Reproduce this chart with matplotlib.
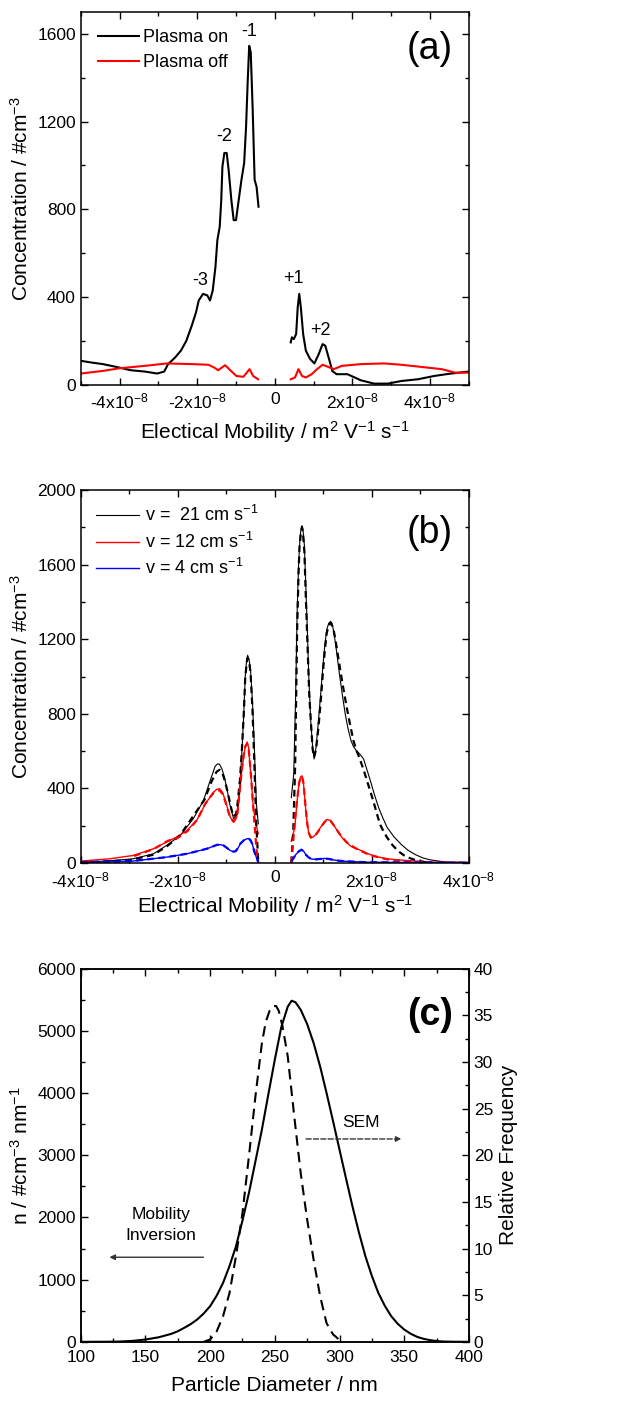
import numpy as np
import matplotlib
matplotlib.use('Agg')
import matplotlib.pyplot as plt
from matplotlib.ticker import MultipleLocator, FixedLocator

plt.rcParams['font.family'] = ['Liberation Sans', 'DejaVu Sans']
plt.rcParams['mathtext.fontset'] = 'custom'
plt.rcParams['mathtext.rm'] = 'Liberation Sans'
plt.rcParams['mathtext.it'] = 'Liberation Sans:italic'
plt.rcParams['mathtext.bf'] = 'Liberation Sans:bold'
plt.rcParams['axes.linewidth'] = 1.1

# ---------------- panel (a): mobility in units of 1e-8 m2/Vs ----------------
a_on_left_x = [-5.0, -4.72, -4.43, -4.0, -3.71, -3.35, -3.03, -2.85, -2.75, -2.57, -2.42,
               -2.28, -2.14, -2.03, -1.96, -1.85, -1.74, -1.67, -1.60, -1.53, -1.48, -1.42,
               -1.38, -1.35, -1.30, -1.24, -1.19, -1.12, -1.06, -1.00, -0.93, -0.86, -0.79,
               -0.74, -0.70, -0.66, -0.62, -0.57, -0.52, -0.47, -0.42]
a_on_left_y = [110, 102, 95, 79, 67, 61, 52, 61, 95, 125, 156,
               201, 270, 331, 385, 415, 408, 385, 430, 537, 660, 720,
               843, 995, 1057, 1057, 980, 843, 751, 751, 843, 934, 1011,
               1179, 1377, 1545, 1515, 1255, 934, 903, 812]
a_on_right_x = [0.41, 0.44, 0.49, 0.55, 0.59, 0.63, 0.67, 0.73, 0.80, 0.91, 1.02, 1.13,
                1.23, 1.30, 1.41, 1.48, 1.59, 1.87, 2.22, 2.56, 2.91, 3.26, 3.69, 4.11,
                4.54, 5.0]
a_on_right_y = [194, 217, 209, 232, 354, 415, 354, 232, 156, 118, 98, 140,
                186, 179, 110, 64, 49, 49, 21, 6, 6, 18, 26, 41,
                52, 61]
a_off_left_x = [-5.0, -4.43, -4.0, -3.35, -2.78, -2.14, -1.71, -1.56, -1.46, -1.28,
                -1.13, -0.99, -0.81, -0.65, -0.56, -0.43]
a_off_left_y = [52, 64, 76, 87, 98, 95, 92, 79, 67, 90, 64, 41, 37, 72, 41, 26]
a_off_right_x = [0.41, 0.52, 0.61, 0.70, 0.80, 0.95, 1.09, 1.23, 1.38, 1.52, 1.73, 2.22,
                 2.82, 3.26, 3.78, 4.30, 4.65, 5.0]
a_off_right_y = [26, 34, 72, 41, 34, 49, 72, 92, 82, 72, 87, 95, 98, 92, 82, 72, 56, 56]
peak_labels = ['-1', '-2', '-3', '+1', '+2']
peak_x = [-0.65, -1.30, -1.92, 0.49, 1.18]
peak_y = [1612, 1133, 476, 484, 250]

# ---------------- panel (b) ----------------
b_k_left_x = [-4.0, -3.47, -2.92, -2.50, -2.23, -1.95, -1.68, -1.47, -1.33, -1.23, -1.18,
              -1.14, -1.09, -1.04, -0.98, -0.93, -0.85, -0.80, -0.77, -0.72, -0.68, -0.64,
              -0.61, -0.58, -0.56, -0.53, -0.50, -0.46, -0.43, -0.38, -0.34]
b_k_left_y = [5, 11, 23, 50, 95, 148, 238, 336, 444, 519, 532,
              530, 505, 462, 390, 318, 238, 250, 283, 420, 587, 800,
              998, 1090, 1114, 1090, 1034, 860, 676, 318, 211]
b_kd_left_x = [-4.0, -3.0, -2.5, -2.2, -1.95, -1.7, -1.45, -1.3, -1.2, -1.14, -1.09,
               -1.04, -0.98, -0.93, -0.86, -0.80, -0.78, -0.72, -0.68, -0.64, -0.61, -0.58,
               -0.56, -0.53, -0.50, -0.46, -0.43, -0.38, -0.34]
b_kd_left_y = [3, 15, 45, 95, 150, 245, 340, 440, 490, 500, 488,
               450, 390, 330, 250, 262, 290, 440, 600, 800, 990, 1075,
               1100, 1080, 1020, 820, 600, 200, 0]
b_k_right_x = [0.34, 0.39, 0.43, 0.46, 0.49, 0.52, 0.54, 0.56, 0.58, 0.61, 0.64, 0.67,
               0.70, 0.74, 0.78, 0.81, 0.85, 0.90, 0.95, 0.99, 1.03, 1.07, 1.11, 1.15,
               1.18, 1.22, 1.27, 1.33, 1.39, 1.45, 1.51, 1.57, 1.62, 1.68, 1.75, 1.83,
               1.90, 1.97, 2.05, 2.14, 2.23, 2.32, 2.46, 2.61, 2.75, 2.90, 3.05, 3.19,
               3.40, 3.59, 4.0]
b_k_right_y = [351, 477, 900, 1341, 1600, 1746, 1790, 1809, 1790, 1701, 1480, 1251,
               1000, 765, 620, 558, 620, 765, 920, 1053, 1165, 1251, 1285, 1296,
               1285, 1233, 1140, 1017, 905, 801, 720, 657, 625, 603, 585, 558,
               500, 441, 370, 297, 240, 189, 140, 99, 68, 45, 28, 18,
               10, 5, 4]
b_kd_right_x = [0.34, 0.38, 0.42, 0.46, 0.49, 0.51, 0.54, 0.56, 0.58, 0.61, 0.64, 0.68,
                0.71, 0.75, 0.78, 0.81, 0.85, 0.90, 0.95, 0.99, 1.03, 1.07, 1.11, 1.15,
                1.20, 1.25, 1.30, 1.36, 1.42, 1.48, 1.55, 1.62, 1.68, 1.74, 1.81, 1.88,
                1.95, 2.03, 2.10, 2.17, 2.25, 2.32, 2.43, 2.55, 2.66, 2.78, 2.90, 3.01,
                3.13, 3.25]
b_kd_right_y = [0, 171, 531, 1251, 1560, 1701, 1775, 1800, 1770, 1665, 1420, 1125,
                900, 729, 610, 567, 610, 729, 880, 1017, 1140, 1233, 1275, 1287,
                1265, 1197, 1115, 1017, 925, 837, 745, 657, 605, 567, 515, 459,
                400, 333, 268, 207, 165, 135, 95, 63, 42, 27, 16, 9,
                4, 0]
b_r_left_x = [-4.0, -3.40, -2.92, -2.50, -2.23, -2.02, -1.81, -1.61, -1.43, -1.26, -1.20,
              -1.14, -1.08, -1.02, -0.97, -0.92, -0.85, -0.80, -0.77, -0.72, -0.68, -0.64,
              -0.61, -0.57, -0.54, -0.52, -0.48, -0.45, -0.40, -0.34]
b_r_left_y = [11, 23, 41, 77, 113, 140, 175, 229, 318, 381, 395,
              399, 380, 336, 290, 247, 220, 238, 265, 390, 497, 575,
              623, 649, 620, 551, 430, 318, 220, 157]
b_rd_left_x = [-2.9, -2.5, -2.2, -2.0, -1.8, -1.6, -1.43, -1.26, -1.20, -1.14, -1.08,
               -1.02, -0.97, -0.92, -0.85, -0.80, -0.77, -0.72, -0.68, -0.64, -0.61, -0.57,
               -0.54, -0.52, -0.48, -0.45, -0.38, -0.34]
b_rd_left_y = [38, 75, 120, 135, 172, 232, 320, 378, 388, 390, 372,
               330, 285, 245, 222, 245, 270, 400, 500, 580, 625, 640,
               615, 560, 430, 320, 80, 0]
b_r_right_x = [0.34, 0.41, 0.46, 0.50, 0.53, 0.56, 0.59, 0.61, 0.64, 0.67, 0.70, 0.74,
               0.79, 0.84, 0.90, 0.96, 1.02, 1.07, 1.15, 1.20, 1.25, 1.32, 1.39, 1.48,
               1.57, 1.65, 1.74, 1.85, 1.97, 2.15, 2.32, 2.55, 2.78, 3.25, 4.0]
b_r_right_y = [117, 189, 333, 430, 462, 468, 430, 369, 280, 207, 160, 135,
               140, 153, 175, 198, 220, 234, 229, 210, 189, 160, 135, 110,
               90, 80, 72, 58, 45, 32, 23, 17, 13, 5, 4]
b_rd_right_x = [0.34, 0.38, 0.42, 0.46, 0.50, 0.53, 0.56, 0.59, 0.61, 0.64, 0.67, 0.70,
                0.74, 0.79, 0.84, 0.90, 0.96, 1.02, 1.07, 1.15, 1.20, 1.25, 1.32, 1.39,
                1.48, 1.57, 1.65, 1.74, 1.85, 1.97, 2.15, 2.32, 2.55, 2.78, 3.25]
b_rd_right_y = [0, 120, 250, 340, 428, 458, 465, 430, 372, 285, 210, 162,
                138, 142, 150, 172, 195, 218, 232, 225, 208, 190, 162, 140,
                112, 95, 82, 70, 56, 42, 30, 20, 14, 8, 2]
b_b_left_x = [-4.0, -2.92, -2.23, -1.81, -1.40, -1.25, -1.19, -1.12, -1.06, -0.99, -0.92,
              -0.86, -0.81, -0.76, -0.71, -0.64, -0.57, -0.53, -0.50, -0.46, -0.43, -0.38,
              -0.34]
b_b_left_y = [2, 11, 32, 50, 77, 92, 98, 99, 95, 82, 68,
              62, 63, 80, 104, 122, 131, 130, 122, 100, 68, 30,
              5]
b_b_right_x = [0.34, 0.39, 0.43, 0.49, 0.55, 0.60, 0.64, 0.69, 0.75, 0.84, 0.93, 1.02,
               1.10, 1.19, 1.28, 1.40, 1.51, 1.86, 2.32, 4.0]
b_b_right_y = [9, 28, 45, 62, 72, 62, 45, 32, 22, 20, 22, 25,
               23, 18, 14, 11, 9, 5, 4, 2]
b_labels = ['v =  21 cm s$^{-1}$', 'v = 12 cm s$^{-1}$', 'v = 4 cm s$^{-1}$']

# ---------------- panel (c) ----------------
c_mob_d = [100, 120, 130, 140, 150, 160, 170, 175, 180, 185, 190, 195, 200, 205, 210,
           215, 220, 225, 230, 235, 240, 245, 250, 255, 260, 263, 266, 270, 275, 280,
           285, 290, 295, 300, 305, 310, 315, 320, 325, 330, 335, 340, 345, 350, 355,
           360, 365, 370, 375, 380, 390, 400]
c_mob_n = [0, 1, 5, 15, 37, 72, 128, 170, 225, 285, 359, 455, 573, 740, 948,
           1220, 1537, 1950, 2394, 2900, 3412, 3980, 4537, 5060, 5390, 5485, 5460, 5340,
           5110, 4805, 4430, 4001, 3550, 3091, 2630, 2180, 1760, 1377, 1060, 787, 580,
           412, 290, 198, 130, 80, 48, 27, 13, 5, 1, 0]
c_sem_d = [195, 200, 205, 210, 215, 220, 225, 230, 235, 240, 243, 246, 249, 251, 253,
           256, 260, 265, 270, 275, 280, 285, 290, 295, 300, 303]
c_sem_f = [0, 0.25, 1.1, 2.75, 5.25, 9.2, 13.8, 19.9, 26.3, 32.0, 34.3, 35.5, 36.0,
           36.0, 35.5, 33.8, 30.6, 24.2, 18.1, 13.1, 8.8, 4.9, 2.0, 0.8, 0.2, 0]

E = 1e-8
TICK = 12.5
LAB = 15


def mob_labels(vals):
    out = []
    for v in vals:
        if v == 0:
            out.append('0')
        else:
            out.append('%dx10$^{-8}$' % v)
    return out


def style(ax, right=True):
    ax.tick_params(which='both', direction='in', top=True, right=right, labelsize=TICK,
                   width=1.0)
    ax.tick_params(which='major', length=5)
    ax.tick_params(which='minor', length=3)


fig = plt.figure(figsize=(6.26, 14.08), dpi=100)

# (a)
ax = fig.add_axes([0.129, 0.7266, 0.620, 0.265])
ax.plot(np.array(a_on_left_x) * E, a_on_left_y, color='black', lw=1.5, label='Plasma on')
ax.plot(np.array(a_on_right_x) * E, a_on_right_y, color='black', lw=1.5)
ax.plot(np.array(a_off_left_x) * E, a_off_left_y, color='red', lw=1.5, label='Plasma off')
ax.plot(np.array(a_off_right_x) * E, a_off_right_y, color='red', lw=1.5)
for t, x, y in zip(peak_labels, peak_x, peak_y):
    ax.text(x * E, y, t, ha='center', va='center', fontsize=13)
ax.set_xlim(-5 * E, 5 * E)
ax.set_ylim(0, 1700)
ax.xaxis.set_major_locator(FixedLocator([v * E for v in [-4, -2, 0, 2, 4]]))
ax.set_xticklabels(mob_labels([-4, -2, 0, 2, 4]))
ax.xaxis.set_minor_locator(MultipleLocator(1 * E))
ax.yaxis.set_major_locator(MultipleLocator(400))
ax.yaxis.set_minor_locator(MultipleLocator(200))
style(ax)
ax.tick_params(axis='x', pad=5)
ax.set_xlabel('Electical Mobility / m$^2$ V$^{-1}$ s$^{-1}$', fontsize=LAB, labelpad=5)
ax.set_ylabel('Concentration / #cm$^{-3}$', fontsize=LAB, labelpad=4)
ax.legend(loc='upper left', frameon=False, fontsize=13, handlelength=2.3,
          borderaxespad=0.55, labelspacing=0.45, handletextpad=0.2)
ax.text(0.90, 0.90, '(a)', transform=ax.transAxes, fontsize=27, ha='center', va='center')

# (b)
ax = fig.add_axes([0.129, 0.387, 0.620, 0.265])
ax.plot(np.array(b_k_left_x) * E, b_k_left_y, color='black', lw=0.8, label=b_labels[0])
ax.plot(np.array(b_k_right_x) * E, b_k_right_y, color='black', lw=0.8)
ax.plot(np.array(b_r_left_x) * E, b_r_left_y, color='red', lw=1.0, label=b_labels[1])
ax.plot(np.array(b_r_right_x) * E, b_r_right_y, color='red', lw=1.0)
ax.plot(np.array(b_b_left_x) * E, b_b_left_y, color='blue', lw=1.0, label=b_labels[2])
ax.plot(np.array(b_b_right_x) * E, b_b_right_y, color='blue', lw=1.0)
ax.plot(np.array(b_kd_left_x) * E, b_kd_left_y, color='black', lw=1.6, ls=(0, (3, 2)))
ax.plot(np.array(b_kd_right_x) * E, b_kd_right_y, color='black', lw=1.6, ls=(0, (3, 2)))
ax.plot(np.array(b_rd_left_x) * E, b_rd_left_y, color='red', lw=1.6, ls=(0, (3, 2)))
ax.plot(np.array(b_rd_right_x) * E, b_rd_right_y, color='red', lw=1.6, ls=(0, (3, 2)))
ax.plot(np.array(b_b_left_x) * E, b_b_left_y, color='blue', lw=1.6, ls=(0, (3, 2)))
ax.plot(np.array(b_b_right_x) * E, b_b_right_y, color='blue', lw=1.6, ls=(0, (3, 2)))
ax.set_xlim(-4 * E, 4 * E)
ax.set_ylim(0, 2000)
ax.xaxis.set_major_locator(FixedLocator([v * E for v in [-4, -2, 0, 2, 4]]))
ax.set_xticklabels(mob_labels([-4, -2, 0, 2, 4]))
ax.xaxis.set_minor_locator(MultipleLocator(1 * E))
ax.yaxis.set_major_locator(MultipleLocator(400))
ax.yaxis.set_minor_locator(MultipleLocator(200))
style(ax)
ax.tick_params(axis='x', pad=5)
ax.set_xlabel('Electrical Mobility / m$^2$ V$^{-1}$ s$^{-1}$', fontsize=LAB, labelpad=2)
ax.set_ylabel('Concentration / #cm$^{-3}$', fontsize=LAB, labelpad=4)
ax.legend(loc='upper left', frameon=False, fontsize=13, handlelength=2.4,
          borderaxespad=0.45, labelspacing=0.35, handletextpad=0.3)
ax.text(0.90, 0.885, '(b)', transform=ax.transAxes, fontsize=27, ha='center', va='center')

# (c)
ax = fig.add_axes([0.129, 0.047, 0.620, 0.265])
ax.plot(c_mob_d, c_mob_n, color='black', lw=1.5)
ax.set_xlim(100, 400)
ax.set_ylim(0, 6000)
ax.xaxis.set_major_locator(MultipleLocator(50))
ax.xaxis.set_minor_locator(MultipleLocator(25))
ax.yaxis.set_major_locator(MultipleLocator(1000))
ax.yaxis.set_minor_locator(MultipleLocator(500))
style(ax, right=False)
ax.tick_params(axis='x', pad=6)
ax.set_xlabel('Particle Diameter / nm', fontsize=LAB, labelpad=8)
ax.set_ylabel('n / #cm$^{-3}$ nm$^{-1}$', fontsize=LAB, labelpad=4)
ax.text(162, 1880, 'Mobility\nInversion', fontsize=12.5, ha='center', va='center',
        linespacing=1.45)
ax.annotate('', xy=(120, 1360), xytext=(197, 1360),
            arrowprops=dict(arrowstyle='-|>', color='#333333', lw=1.0,
                            mutation_scale=8))
ax.text(316.5, 3530, 'SEM', fontsize=12.5, ha='center', va='center')
ax.annotate('', xy=(350, 3262), xytext=(272, 3262),
            arrowprops=dict(arrowstyle='-|>', color='#333333', lw=1.0, ls='--',
                            mutation_scale=8))
ax.text(0.90, 0.877, '(c)', transform=ax.transAxes, fontsize=27, ha='center',
        va='center', fontweight='bold')

ax2 = ax.twinx()
ax2.plot(c_sem_d, c_sem_f, color='black', lw=1.5, ls=(0, (5, 3)))
ax2.set_ylim(0, 40)
ax2.yaxis.set_major_locator(MultipleLocator(5))
ax2.yaxis.set_minor_locator(MultipleLocator(2.5))
ax2.tick_params(which='both', direction='in', labelsize=TICK, width=1.0)
ax2.tick_params(which='major', length=5)
ax2.tick_params(which='minor', length=3)
ax2.set_ylabel('Relative Frequency', fontsize=LAB, labelpad=4)

fig.savefig('out.png', dpi=100)
